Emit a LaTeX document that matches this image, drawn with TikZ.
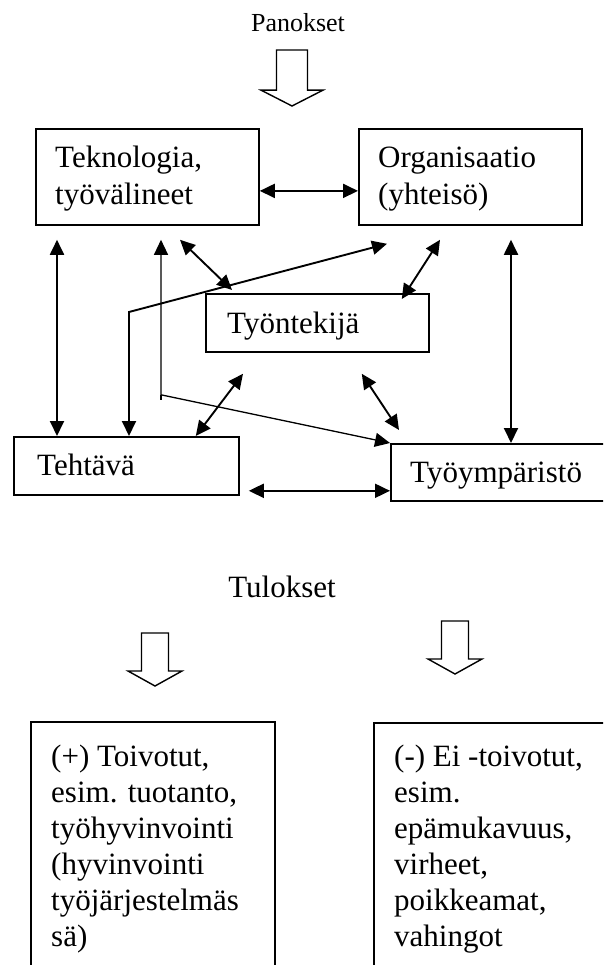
\documentclass[tikz,border=0pt]{standalone}
\usepackage{fontspec}
\setmainfont{Liberation Serif}
\usetikzlibrary{arrows.meta}

\tikzset{
  box/.style={draw, line width=1.8pt, inner sep=0pt, anchor=north west},
  lbl/.style={inner sep=0pt, anchor=base west, font=\fontsize{31}{37}\selectfont},
  title/.style={inner sep=0pt, anchor=base},
  tip/.style={Triangle[length=15pt, width=14pt]},
  link/.style={line width=1.9pt, {Triangle[length=15pt,width=14pt]}-{Triangle[length=15pt,width=14pt]}},
  thinlink/.style={line width=1.3pt, {Triangle[length=15pt,width=14pt]}-{Triangle[length=15pt,width=14pt]}},
  hollowdown/.pic={
    \draw[line width=1.4pt, line join=miter]
      (-13.5,-53) -- (-13.5,-15) -- (-27,-15) -- (0,0) -- (27,-15)
      -- (13.5,-15) -- (13.5,-53) -- cycle;
  }
}

\begin{document}
\begin{tikzpicture}[x=1pt, y=-1pt]
\useasboundingbox (0,0) rectangle (603,965);
\clip (0,0) rectangle (603,965);

% inputs
\node[title, font=\fontsize{26}{30}\selectfont] (panokset) at (298,32) {Panokset};
\pic[xscale=1.148, yscale=1.057] (inarrow) at (292,106) {hollowdown};

% the five parts of the work system
\node[box, minimum width=223pt, minimum height=96pt] (tek) at (35,128) {};
\node[box, minimum width=223pt, minimum height=96pt] (org) at (358,128) {};
\node[box, minimum width=223pt, minimum height=58pt] (ten) at (205,293) {};
\node[box, minimum width=225pt, minimum height=58pt] (teh) at (13,436) {};
\node[box, minimum width=230pt, minimum height=57pt] (ymp) at (390,443) {};

\node[lbl] (tekT) at (55,168) {\parbox[t]{300pt}{Teknologia,\\työvälineet}};
\node[lbl] (orgT) at (378,168) {\parbox[t]{300pt}{Organisaatio\\(yhteisö)}};
\node[lbl] (tenT) at (227,333) {Työntekijä};
\node[lbl] (tehT) at (37,475) {Tehtävä};
\node[lbl] (ympT) at (410,482) {Työympäristö};

% interactions
\draw[link] ([yshift=-14pt]tek.east) -- ([yshift=-14pt]org.west);
\draw[link] ([xshift=22pt, yshift=-14pt]tek.south west) -- ([xshift=44pt]teh.north west);
\draw[link] ([xshift=116pt]teh.north west) -- ++(0,-124) -- ([xshift=29pt, yshift=-18pt]org.south west);
\draw[thinlink] ([xshift=126pt, yshift=-14pt]tek.south west) -- ++(0,155) coordinate (bend) -- (ymp.north west);
\draw[line width=1.3pt] (bend) -- ++(0,5);
\draw[link] ([xshift=145pt, yshift=-14pt]tek.south west) -- ([xshift=27pt, yshift=3pt]ten.north west);
\draw[link] ([xshift=82pt, yshift=-14pt]org.south west) -- ([xshift=-28pt, yshift=-6pt]ten.north east);
\draw[link] ([xshift=153pt, yshift=-14pt]org.south west) -- ([xshift=121pt]ymp.north west);
\draw[link] ([xshift=38pt, yshift=-21pt]ten.south west) -- ([xshift=-44pt]teh.north east);
\draw[link] ([xshift=-68pt, yshift=-21pt]ten.south east) -- ([xshift=9pt, yshift=13pt]ymp.north west);
\draw[link] ([xshift=9pt, yshift=5pt]teh.south east) -- ([yshift=11pt]ymp.south west);

% outcomes
\node[title, font=\fontsize{31}{37}\selectfont] (tulokset) at (282,597) {Tulokset};
\pic (goodarrow) at (155,686) {hollowdown};
\pic (badarrow) at (455,674) {hollowdown};

\node[box, minimum width=244pt, minimum height=280pt] (plus) at (30,721) {};
\node[box, minimum width=250pt, minimum height=280pt] (minus) at (373,722) {};

\node[lbl, font=\fontsize{31}{36}\selectfont] (plusT) at (51,766)
  {\parbox[t]{300pt}{(+) Toivotut,\\esim. tuotanto,\\työhyvinvointi\\(hyvinvointi\\työjärjestelmäs\\sä)}};
\node[lbl, font=\fontsize{31}{36}\selectfont] (minusT) at (394,766)
  {\parbox[t]{300pt}{(-) Ei -toivotut,\\esim.\\epämukavuus,\\virheet,\\poikkeamat,\\vahingot}};
\end{tikzpicture}
\end{document}
